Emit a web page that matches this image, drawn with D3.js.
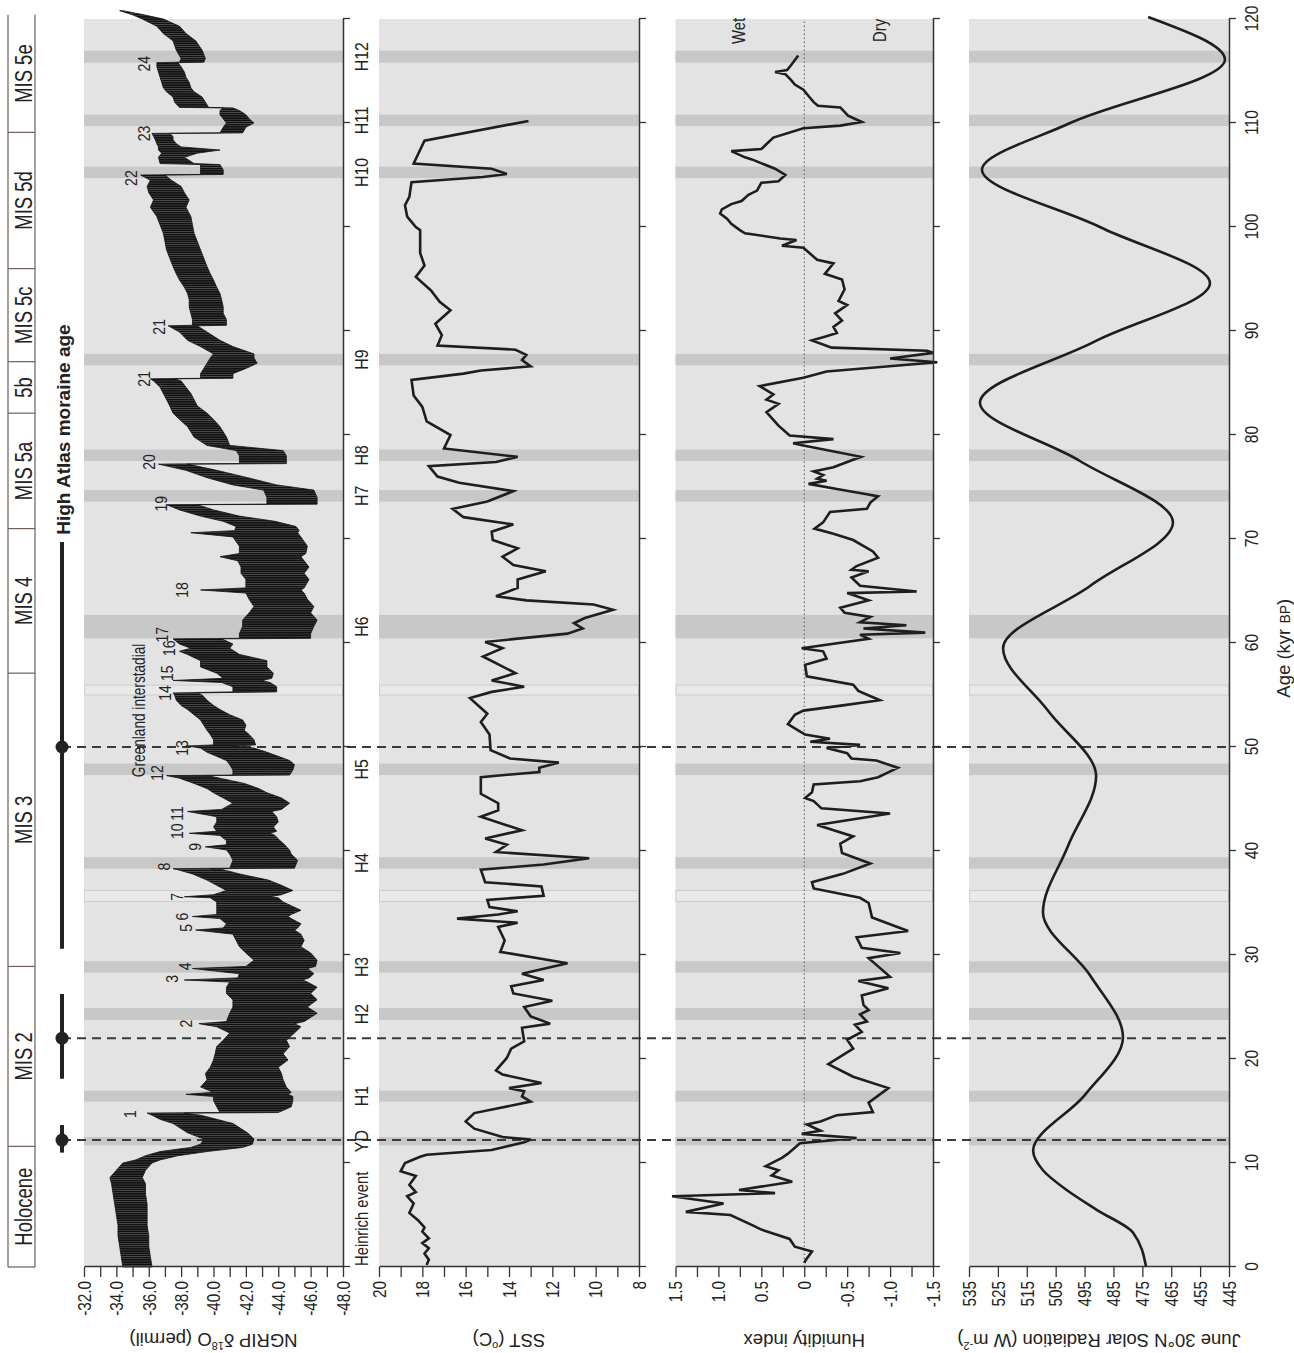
<!DOCTYPE html>
<html>
<head>
<meta charset="utf-8">
<script src="https://cdn.jsdelivr.net/npm/d3@7"></script>
<style>
  body { margin: 0; background: #fff; }
  svg text { font-family: "Liberation Sans", Arial, Helvetica, sans-serif; fill: #222; }
</style>
</head>
<body>
<svg id="chart" width="1294" height="1353"></svg>
<script>
// ---- data (age in kyr BP) ----

// NGRIP d18O record: [age, warm edge, cold edge] of the noisy trace
const ngrip = [
  [0.0,-34.4,-36.2],[1.0,-34.3,-36.1],[2.0,-34.2,-36.0],[3.0,-34.1,-36.0],[4.0,-34.1,-35.9],[5.0,-34.0,-35.9],
  [6.0,-33.9,-35.9],[7.0,-33.8,-35.8],[8.0,-33.7,-35.8],[8.6,-33.6,-35.6],[9.3,-34.0,-35.8],[10.0,-34.4,-36.2],
  [10.3,-35.2,-36.7],[10.7,-35.8,-37.8],[11.1,-36.7,-39.6],[11.5,-38.6,-41.8],[11.8,-39.2,-42.4],[12.3,-39.4,-42.5],
  [12.9,-38.4,-42.1],[13.8,-37.5,-41.2],[14.2,-36.7,-40.2],[14.6,-36.2,-39.2],[14.8,-35.9,-38.2],[14.85,-40.4,-44.0],
  [15.4,-40.2,-44.8],[16.0,-40.0,-44.9],[16.4,-40.0,-44.9],[16.6,-38.3,-44.6],[16.8,-40.0,-44.8],[17.3,-39.2,-44.5],
  [18.0,-39.6,-44.3],[18.6,-39.5,-44.2],[19.2,-39.8,-44.0],[19.9,-40.0,-44.6],[20.5,-40.1,-44.3],[21.2,-40.2,-44.7],
  [21.8,-40.6,-44.5],[22.5,-41.0,-45.0],[23.1,-40.2,-45.4],[23.4,-39.1,-45.0],[23.6,-40.8,-45.6],[24.4,-41.0,-46.4],
  [25.0,-41.2,-45.8],[25.7,-41.2,-46.4],[26.3,-40.8,-46.0],[26.9,-40.8,-46.4],[27.4,-41.0,-45.8],[27.6,-38.2,-45.5],
  [27.8,-41.5,-45.9],[28.2,-41.6,-46.2],[28.7,-38.7,-45.8],[28.9,-42.0,-46.3],[29.5,-42.5,-46.4],[30.2,-42.0,-46.0],
  [30.8,-41.6,-45.4],[31.4,-41.4,-45.6],[32.0,-41.2,-45.4],[32.4,-38.9,-45.0],[32.6,-40.6,-45.2],[33.0,-40.8,-45.4],
  [33.5,-40.4,-44.8],[33.7,-38.7,-44.6],[33.9,-40.2,-44.8],[34.3,-40.2,-45.4],[35.1,-40.2,-44.3],[35.5,-39.8,-44.0],
  [35.6,-38.2,-43.5],[35.8,-40.0,-44.2],[36.2,-40.8,-44.9],[36.7,-40.2,-44.2],[37.2,-39.6,-43.4],[37.8,-38.7,-41.6],
  [38.2,-37.8,-40.6],[38.3,-37.5,-39.8],[38.35,-41.0,-45.0],[39.1,-41.2,-45.2],[39.7,-41.0,-44.8],[40.1,-40.8,-44.7],
  [40.4,-39.5,-44.5],[40.6,-40.8,-44.4],[41.0,-40.8,-44.1],[41.5,-40.4,-43.8],[41.7,-38.5,-43.5],[41.9,-40.2,-43.9],
  [42.3,-40.0,-43.7],[42.8,-40.2,-44.0],[43.3,-40.2,-43.9],[43.8,-38.4,-43.6],[44.0,-40.5,-44.2],[44.6,-41.2,-44.7],
  [45.1,-40.6,-44.2],[45.6,-40.0,-43.3],[46.0,-39.6,-42.8],[46.5,-38.8,-41.9],[47.0,-37.9,-40.4],[47.25,-37.1,-39.6],
  [47.3,-41.2,-44.7],[47.8,-41.2,-44.9],[48.3,-41.0,-45.0],[48.7,-40.8,-44.7],[49.1,-40.2,-44.0],[49.5,-39.6,-43.3],
  [49.9,-39.2,-42.5],[50.1,-38.4,-41.2],[50.2,-40.0,-42.6],[50.7,-40.0,-42.5],[51.2,-39.8,-42.2],[51.6,-39.6,-41.9],
  [52.1,-39.4,-42.0],[52.6,-39.2,-41.8],[53.1,-38.8,-41.0],[53.6,-38.4,-40.4],[54.0,-38.0,-40.0],[54.5,-37.7,-39.6],
  [55.0,-37.6,-39.3],[55.2,-37.5,-39.0],[55.3,-41.2,-43.9],[55.8,-41.2,-43.9],[56.2,-40.5,-43.5],[56.4,-37.5,-43.0],
  [56.6,-40.6,-43.6],[57.1,-40.2,-43.7],[57.7,-39.2,-43.3],[58.3,-39.2,-43.3],[58.9,-38.4,-41.6],[59.2,-37.9,-41.3],
  [59.5,-38.6,-41.0],[59.9,-37.9,-41.2],[60.4,-37.5,-40.5],[60.45,-41.6,-46.0],[60.9,-41.6,-46.0],[61.6,-41.8,-46.2],
  [62.2,-41.8,-46.4],[62.9,-42.2,-46.0],[63.5,-42.5,-46.2],[64.2,-42.2,-45.8],[64.8,-42.0,-45.6],[65.1,-39.2,-45.4],
  [65.3,-42.0,-45.6],[66.1,-42.0,-45.9],[66.7,-41.7,-45.6],[67.3,-41.7,-45.9],[67.9,-41.5,-45.6],[68.3,-40.4,-45.4],
  [68.6,-41.6,-45.7],[69.3,-41.6,-45.8],[70.2,-41.2,-45.4],[70.6,-38.6,-45.2],[70.8,-41.3,-45.3],[71.2,-41.4,-45.1],
  [71.7,-40.6,-43.8],[72.2,-39.2,-41.6],[72.8,-37.9,-40.0],[73.3,-37.1,-39.0],[73.35,-43.3,-46.4],[74.0,-43.3,-46.4],
  [74.7,-43.1,-46.2],[75.2,-41.2,-43.9],[75.9,-39.6,-42.1],[76.6,-38.3,-40.2],[77.2,-36.6,-38.4],[77.25,-41.6,-44.5],
  [78.0,-41.6,-44.5],[78.5,-41.4,-44.3],[79.0,-39.6,-41.0],[79.8,-38.8,-40.8],[80.8,-38.4,-40.4],[81.5,-37.9,-40.0],
  [82.1,-37.5,-39.6],[82.8,-37.3,-39.0],[83.4,-37.1,-38.8],[84.0,-36.9,-38.6],[84.6,-36.7,-38.3],[85.2,-36.3,-38.0],
  [85.4,-36.1,-37.6],[85.45,-39.2,-41.2],[85.9,-39.2,-41.2],[86.4,-39.4,-42.0],[86.9,-39.6,-42.7],[87.4,-39.8,-42.5],
  [87.8,-40.0,-42.5],[88.5,-39.2,-41.2],[89.1,-38.4,-40.4],[89.9,-37.9,-39.6],[90.5,-37.2,-39.0],[90.55,-38.7,-40.8],
  [91.1,-38.7,-40.8],[91.7,-38.6,-40.6],[92.3,-38.5,-40.6],[93.0,-38.5,-40.5],[93.6,-38.4,-40.4],[94.2,-38.2,-40.2],
  [94.9,-37.9,-40.0],[95.5,-37.7,-39.8],[96.2,-37.5,-39.6],[97.0,-37.3,-39.4],[97.8,-37.1,-39.2],[98.6,-37.0,-39.0],
  [99.4,-36.9,-38.8],[100.2,-36.7,-38.7],[101.0,-36.5,-38.6],[101.9,-36.1,-38.3],[102.6,-36.3,-38.5],[103.3,-36.0,-38.2],
  [103.9,-35.9,-38.0],[104.5,-36.1,-37.4],[105.0,-35.5,-37.0],[105.05,-39.2,-40.6],[105.5,-39.2,-40.6],[106.0,-39.2,-40.4],
  [106.1,-36.7,-38.8],[106.7,-36.6,-38.2],[107.1,-36.8,-39.0],[107.4,-36.6,-40.4],[107.7,-36.6,-38.0],[108.0,-36.5,-37.7],
  [108.4,-36.4,-37.5],[108.7,-36.3,-37.5],[109.0,-36.2,-37.3],[109.05,-40.4,-41.8],[109.6,-40.6,-42.0],[110.0,-40.8,-42.5],
  [110.4,-40.6,-42.2],[110.8,-40.4,-42.0],[111.2,-40.4,-41.6],[111.45,-40.6,-41.2],[111.5,-37.9,-39.7],[112.0,-37.6,-39.5],
  [112.5,-37.5,-39.3],[113.0,-37.1,-38.8],[113.4,-36.9,-38.6],[113.9,-36.8,-38.5],[114.4,-36.7,-38.3],[114.9,-36.6,-38.2],
  [115.4,-36.5,-38.0],[115.8,-36.5,-37.8],[115.85,-37.9,-39.4],[116.2,-38.0,-39.5],[117.0,-37.7,-39.3],[117.9,-37.5,-38.9],
  [118.6,-36.9,-38.3],[119.3,-36.5,-37.9],[120.0,-35.6,-36.9],[120.4,-35.0,-35.7],[120.8,-34.2,-34.4]
];

// sea surface temperature (deg C)
const sst = [
  [0.2,17.8],[0.7,17.7],[1.3,17.9],[1.8,17.7],[2.3,18.0],[2.75,17.7],[3.4,18.0],[3.8,17.9],[4.5,18.2],[5.2,18.6],
  [6.1,18.4],[6.8,18.7],[7.2,18.3],[7.9,18.6],[8.75,18.3],[9.2,19.0],[10.0,18.8],[10.6,18.1],[10.8,17.8],[11.25,14.8],
  [12.0,13.3],[12.25,13.0],[12.5,14.3],[13.3,15.6],[14.0,16.0],[14.8,15.6],[15.9,13.0],[16.4,13.4],[16.9,13.3],[17.2,14.0],
  [17.7,12.5],[18.5,14.3],[18.9,14.6],[20.1,14.1],[21.0,13.9],[21.7,13.3],[23.0,13.4],[23.4,12.1],[24.1,13.0],[25.0,13.3],
  [25.6,12.0],[26.3,13.8],[27.0,13.9],[27.6,12.4],[28.2,13.4],[29.2,11.3],[30.3,14.4],[31.4,14.2],[32.7,14.5],[33.1,13.6],
  [33.5,16.4],[33.9,14.5],[34.2,13.6],[34.6,14.9],[35.3,15.0],[35.7,12.4],[36.6,12.5],[37.0,15.1],[38.2,15.3],[38.7,12.4],
  [39.3,10.3],[39.9,14.6],[40.6,14.1],[41.2,15.1],[42.0,13.4],[43.3,15.3],[43.9,14.5],[44.6,14.5],[45.5,15.3],[47.1,15.3],
  [47.6,12.6],[48.0,12.6],[48.5,11.7],[48.9,13.95],[49.7,14.85],[51.2,14.9],[52.4,15.3],[53.2,15.0],[54.7,15.8],[55.3,14.8],
  [55.8,13.3],[56.4,14.8],[57.1,13.7],[58.7,15.2],[59.5,14.3],[60.1,15.1],[60.9,11.3],[61.4,10.6],[61.9,11.0],[62.4,10.5],
  [63.2,9.2],[63.7,10.1],[64.1,13.2],[64.5,14.6],[65.3,13.6],[66.1,13.6],[66.9,12.3],[67.5,13.8],[68.3,14.3],[69.1,13.6],
  [69.9,14.75],[70.7,14.8],[71.4,13.8],[72.1,16.1],[72.9,16.6],[73.6,15.0],[74.6,13.8],[75.4,16.3],[76.0,17.3],[77.0,17.7],
  [77.4,14.6],[77.9,13.6],[78.7,17.0],[80.0,16.7],[81.3,17.8],[82.7,18.0],[83.8,18.4],[85.3,18.5],[85.9,16.1],[86.2,15.3],
  [86.6,13.0],[87.2,13.4],[87.7,13.2],[88.2,13.7],[88.6,17.3],[89.6,17.1],[90.7,17.4],[92.0,16.7],[92.8,17.2],[93.9,17.6],
  [95.2,18.3],[96.3,17.9],[97.5,18.1],[99.7,18.1],[100.0,18.3],[101.0,18.7],[102.1,18.8],[102.9,18.6],[104.3,18.5],[104.8,15.2],
  [105.1,14.1],[105.6,14.8],[106.1,18.4],[108.3,17.9],[110.2,13.1]
];

// humidity index
const humidity = [
  [0.4,0.0],[0.7,-0.02],[1.5,-0.09],[1.95,0.11],[2.7,0.17],[3.6,0.50],[4.0,0.60],[5.0,0.86],[5.3,1.38],[6.1,0.94],
  [6.8,1.54],[7.1,0.34],[7.4,0.76],[8.2,0.14],[8.8,0.38],[9.3,0.30],[9.7,0.45],[10.5,0.26],[10.9,0.19],[11.9,0.05],
  [12.4,-0.61],[12.8,0.03],[13.1,-0.19],[13.7,-0.03],[14.0,-0.19],[14.6,-0.38],[14.9,-0.80],[15.8,-0.75],[17.2,-0.98],[18.3,-0.57],
  [19.5,-0.28],[21.0,-0.57],[21.85,-0.50],[22.6,-0.67],[23.3,-0.59],[23.6,-0.73],[24.3,-0.65],[24.7,-0.75],[25.2,-0.69],[26.1,-0.67],
  [26.8,-0.98],[27.5,-0.63],[27.9,-1.0],[29.7,-0.75],[30.2,-1.12],[30.7,-0.67],[31.7,-0.61],[32.3,-1.21],[33.6,-0.79],[35.0,-0.75],
  [35.5,-0.65],[36.4,-0.11],[37.0,-0.09],[37.8,-0.45],[38.8,-0.77],[39.8,-0.44],[40.7,-0.42],[41.4,-0.57],[42.5,-0.15],[43.6,-1.0],
  [44.1,-0.20],[44.8,-0.11],[45.1,-0.01],[45.65,-0.09],[46.4,-0.11],[46.7,-0.65],[47.1,-0.86],[48.0,-1.09],[48.7,-0.84],[48.9,-0.55],
  [49.4,-0.50],[49.9,-0.26],[50.2,-0.65],[50.5,-0.07],[50.8,-0.30],[51.2,-0.01],[51.8,0.11],[52.2,0.19],[53.1,0.11],[53.5,0.01],
  [54.0,-0.45],[54.5,-0.88],[55.4,-0.63],[56.0,-0.57],[56.8,-0.03],[57.9,-0.01],[58.5,-0.26],[59.2,-0.22],[59.5,0.03],[60.4,-0.75],
  [60.8,-0.65],[61.0,-1.41],[61.4,-0.69],[61.7,-1.19],[62.0,-0.65],[62.5,-0.77],[62.9,-0.47],[63.4,-0.42],[64.1,-0.75],[64.8,-0.50],
  [64.95,-1.31],[65.5,-0.65],[66.3,-0.55],[66.9,-0.75],[67.05,-0.55],[67.4,-0.61],[68.2,-0.86],[68.8,-0.80],[69.9,-0.57],[70.5,-0.34],
  [71.0,-0.12],[71.6,-0.22],[72.6,-0.30],[72.9,-0.73],[73.5,-0.77],[74.1,-0.86],[74.3,-0.73],[74.8,-0.38],[75.3,-0.05],[75.6,-0.26],
  [75.8,-0.15],[76.15,-0.22],[76.5,-0.11],[76.9,-0.34],[77.9,-0.66],[79.0,0.01],[79.2,0.13],[79.6,-0.34],[79.95,0.17],[80.9,0.30],
  [82.2,0.44],[83.0,0.30],[83.4,0.44],[83.9,0.36],[84.7,0.52],[85.5,0.01],[86.1,-0.26],[87.0,-1.55],[87.35,-1.0],[87.9,-1.5],
  [88.1,-1.43],[88.4,-0.32],[89.1,-0.09],[89.4,-0.22],[89.8,-0.38],[90.4,-0.34],[91.0,-0.44],[91.7,-0.36],[92.5,-0.50],[92.9,-0.40],
  [94.0,-0.47],[94.95,-0.44],[95.5,-0.24],[96.5,-0.34],[96.85,-0.15],[98.0,0.01],[98.2,0.26],[98.75,0.09],[98.9,0.28],[99.4,0.69],
  [99.7,0.75],[100.3,0.85],[100.8,0.90],[101.3,0.98],[101.7,0.96],[102.2,0.85],[102.5,0.73],[103.1,0.65],[103.5,0.55],[104.25,0.50],
  [104.4,0.30],[105.0,0.22],[105.6,0.34],[106.5,0.61],[106.7,0.69],[107.3,0.85],[107.5,0.50],[108.6,0.36],[109.5,0.01],[109.75,-0.42],
  [110.1,-0.67],[110.7,-0.51],[111.5,-0.42],[111.65,-0.16],[112.0,-0.11],[112.6,-0.05],[113.2,0.01],[113.7,0.11],[114.1,0.15],[114.7,0.22],
  [114.9,0.34],[115.1,0.20],[115.6,0.15],[116.5,0.07]
];

// June 30N insolation (W m-2)
const solar = [
  [0,473.7],[3.3,478.2],[5.5,490.8],[7.4,501.2],[9.3,509.4],[11.2,512.8],[16.5,495],[22.1,481.7],[28,493],[34.1,509.4],
  [40.5,500.7],[47.2,491],[53.5,507.7],[59.5,523.2],[65.5,493],[71.6,464.4],[77.5,496.6],[83.1,531.2],[89,491.4],
  [94.6,451.6],[100,489.7],[105.5,530.5],[110,500],[116.1,446.4],[120.2,473]
];

// Heinrich events / Younger Dryas bands [label, from, to]
const heinrich = [
  ["YD",11.7,12.5],["H1",15.9,16.95],["H2",23.75,24.9],["H3",28.3,29.4],["H4",38.3,39.4],["H5",47.3,48.4],
  ["H6",60.45,62.7],["H7",73.6,74.7],["H8",77.5,78.6],["H9",86.7,87.8],["H10",104.7,105.8],["H11",109.7,110.8],
  ["H12",115.8,116.95]
];
const interstadialBoxes = [[35.15,36.2],[55.0,55.95]];

// marine isotope stages
const misBounds = [0, 11.6, 28.9, 57.1, 71.0, 82.1, 87.05, 96.0, 109.1, 120.4];
const misNames = ["Holocene", "MIS 2", "MIS 3", "MIS 4", "MIS 5a", "5b", "MIS 5c", "MIS 5d", "MIS 5e"];

// High Atlas moraine ages [age, from, to]
const moraines = [[12.2,11.0,13.65],[22,18.1,26.25],[50,30.6,69.7]];

// Greenland interstadial numbers [label, age, value of label baseline]
const gisLabels = [
  ["1",14.7,-35.2],["2",23.4,-38.7],["3",27.7,-37.8],["4",28.9,-38.6],["5",32.6,-38.7],["6",33.7,-38.4],
  ["7",35.6,-38.1],["8",38.5,-37.3],["9",40.4,-39.2],["10",41.9,-38.1],["11",43.6,-38.1],["12",47.5,-36.9],
  ["13",49.9,-38.4],["14",55.2,-37.4],["15",57.1,-37.5],["16",59.5,-37.6],["17",60.8,-37.2],["18",65.1,-38.4],
  ["19",73.4,-37.1],["20",77.4,-36.4],["21",85.4,-36.1],["21",90.4,-37.0],["22",104.7,-35.3],["23",109.0,-36.1],
  ["24",115.7,-36.1]
];

// ---- drawing ----
const W = 1294, H = 1353;
const svg = d3.select("#chart");

// dense stroke texture for the NGRIP trace
const pat = svg.append("defs").append("pattern")
  .attr("id", "fuzz")
  .attr("patternUnits", "userSpaceOnUse")
  .attr("width", 2.2).attr("height", 10);
pat.append("rect").attr("width", 2.2).attr("height", 10).attr("fill", "#505050");
pat.append("rect").attr("width", 1.4).attr("height", 10).attr("fill", "#0d0d0d");

// the figure is laid out landscape and turned a quarter turn
const g = svg.append("g").attr("transform", `translate(0,${H}) rotate(-90)`);

const x = d3.scaleLinear().domain([0, 120]).range([86, 1334]);

const panels = [
  { key: "ngrip", scale: d3.scaleLinear().domain([-32, -48]).range([84, 343]),
    ticks: d3.range(-32, -48.01, -1), fmt: d => (d % 2 === 0 ? d.toFixed(1) : "") },
  { key: "sst", scale: d3.scaleLinear().domain([20, 8]).range([379, 639]),
    ticks: d3.range(20, 7.99, -1), fmt: d => (d % 2 === 0 ? d : "") },
  { key: "hum", scale: d3.scaleLinear().domain([1.5, -1.5]).range([675.5, 933]),
    ticks: d3.range(1.5, -1.51, -0.25), fmt: d => (Math.abs(d * 2 - Math.round(d * 2)) < 1e-6 ? (Math.abs(d) < 1e-6 ? "0" : d.toFixed(1)) : "") },
  { key: "solar", scale: d3.scaleLinear().domain([535, 445]).range([969, 1229]),
    ticks: d3.range(535, 444, -10), fmt: d => d }
];
const P = Object.fromEntries(panels.map(p => [p.key, p]));

function addText(sel, px, py, str, o = {}) {
  return sel.append("text")
    .attr("transform", `translate(${px},${py}) scale(${o.sx ?? 1},1)`)
    .attr("text-anchor", o.anchor || "middle")
    .attr("font-size", o.size || 18)
    .attr("font-weight", o.weight || "normal")
    .text(str);
}

// backgrounds, bands, outline boxes
panels.forEach(p => {
  const [y0, y1] = p.scale.range();
  const pg = g.append("g").attr("class", `panel panel-${p.key}`);
  pg.append("rect")
    .attr("x", x(0)).attr("width", x(120) - x(0))
    .attr("y", y0).attr("height", y1 - y0)
    .attr("fill", "#e3e3e3");
  pg.selectAll(".band").data(heinrich).join("rect")
    .attr("class", "band")
    .attr("x", d => x(d[1])).attr("width", d => x(d[2]) - x(d[1]))
    .attr("y", y0).attr("height", y1 - y0)
    .attr("fill", "#c8c8c8");
  pg.selectAll(".gi").data(interstadialBoxes).join("rect")
    .attr("class", "gi")
    .attr("x", d => x(d[0])).attr("width", d => x(d[1]) - x(d[0]))
    .attr("y", y0 + 0.5).attr("height", y1 - y0 - 1)
    .attr("fill", "#e9e9e9").attr("stroke", "#cdcdcd").attr("stroke-width", 1);
});

// dashed moraine lines through all panels
g.selectAll(".dash").data(moraines).join("line")
  .attr("class", "dash")
  .attr("x1", d => x(d[0])).attr("x2", d => x(d[0]))
  .attr("y1", 62).attr("y2", P.solar.scale.range()[1])
  .attr("stroke", "#3a3a3a").attr("stroke-width", 2).attr("stroke-dasharray", "9,6");

// moraine bars and dots
g.selectAll(".mbar").data(moraines).join("line")
  .attr("class", "mbar")
  .attr("x1", d => x(d[1])).attr("x2", d => x(d[2]))
  .attr("y1", 62).attr("y2", 62)
  .attr("stroke", "#222").attr("stroke-width", 4);
g.selectAll(".mdot").data(moraines).join("circle")
  .attr("class", "mdot")
  .attr("cx", d => x(d[0])).attr("cy", 62).attr("r", 6.5)
  .attr("fill", "#222");
addText(g, x(70.4), 70, "High Atlas moraine age", { anchor: "start", size: 19, weight: "bold" });

// MIS strip
const mis = g.append("g").attr("class", "mis");
[8, 35].forEach(yy => mis.append("line")
  .attr("x1", x(0)).attr("x2", x(misBounds[misBounds.length - 1]))
  .attr("y1", yy).attr("y2", yy)
  .attr("stroke", "#6e5f58").attr("stroke-width", 1.2));
mis.selectAll(".div").data(misBounds.slice(0, -1)).join("line")
  .attr("class", "div")
  .attr("x1", d => x(d)).attr("x2", d => x(d))
  .attr("y1", 8).attr("y2", 35)
  .attr("stroke", "#6e5f58").attr("stroke-width", 1.2);
misNames.forEach((n, i) => {
  addText(mis, x((misBounds[i] + misBounds[i + 1]) / 2), 32, n, { size: 24, sx: 0.77 });
});

// NGRIP trace
const ng = P.ngrip.scale;
g.append("path")
  .datum(ngrip)
  .attr("d", d3.area().x(d => x(d[0])).y0(d => ng(d[2])).y1(d => ng(d[1])))
  .attr("fill", "url(#fuzz)")
  .attr("stroke", "#111").attr("stroke-width", 0.8).attr("stroke-linejoin", "round");

// SST, humidity, solar curves
const curve = (data, ys, c) => g.append("path")
  .datum(data)
  .attr("d", d3.line().x(d => x(d[0])).y(d => ys(d[1])).curve(c || d3.curveLinear))
  .attr("fill", "none").attr("stroke", "#1e1e1e").attr("stroke-width", 2.6);

// zero line for humidity
g.append("line")
  .attr("x1", x(0)).attr("x2", x(120))
  .attr("y1", P.hum.scale(0)).attr("y2", P.hum.scale(0))
  .attr("stroke", "#555").attr("stroke-width", 1).attr("stroke-dasharray", "1.5,2.5");

curve(sst, P.sst.scale);
curve(humidity, P.hum.scale);
curve(solar, P.solar.scale, d3.curveMonotoneX);

// axes
panels.forEach((p, i) => {
  const va = g.append("g")
    .attr("transform", `translate(${x(0)},0)`)
    .call(d3.axisLeft(p.scale).tickValues(p.ticks).tickFormat(p.fmt).tickSize(10).tickSizeOuter(0));
  va.select(".domain").attr("stroke", "#333").attr("stroke-width", 1.5);
  va.selectAll(".tick line").attr("stroke", "#333").attr("stroke-width", 1.3);
  va.selectAll("text")
    .attr("x", 0).attr("dy", "0.35em")
    .attr("transform", "translate(-14,0) scale(0.85,1)")
    .attr("font-size", 18).attr("fill", "#222")
    .style("font-family", "Liberation Sans, Arial, sans-serif");

  const last = i === panels.length - 1;
  const ha = g.append("g")
    .attr("transform", `translate(0,${p.scale.range()[1]})`)
    .call(d3.axisBottom(x).tickValues(d3.range(0, 121, 10)).tickSize(7).tickSizeOuter(0)
      .tickFormat(last ? d => d : () => ""));
  ha.select(".domain").attr("stroke", "#333").attr("stroke-width", 1.5);
  ha.selectAll(".tick line").attr("stroke", "#333").attr("stroke-width", 1.3);
  ha.selectAll("text")
    .attr("y", 0).attr("dy", 0)
    .attr("transform", "translate(0,29) scale(0.82,1)")
    .attr("font-size", 19).attr("fill", "#222")
    .style("font-family", "Liberation Sans, Arial, sans-serif");
});

// Heinrich labels under the NGRIP panel
heinrich.forEach(([name, a, b]) => {
  addText(g, x((a + b) / 2), 368, name, { size: 18, sx: 0.88 });
});
addText(g, x(0.1), 368, "Heinrich event", { anchor: "start", size: 18, sx: 0.82 });

// interstadial numbers
gisLabels.forEach(([t, a, v]) => addText(g, x(a), ng(v), t, { size: 16.5, sx: 0.85 }));
addText(g, x(47.1), 145, "Greenland interstadial", { anchor: "start", size: 17.5, sx: 0.78 });

// wet / dry
addText(g, x(117.6), 745, "Wet", { anchor: "start", size: 18.5, sx: 0.8 });
addText(g, x(117.8), 886, "Dry", { anchor: "start", size: 18.5, sx: 0.8 });

// axis titles (rotated inside the landscape frame)
const titles = [
  { key: "ngrip", parts: [["NGRIP δ"], ["18", "sup"], ["O (permil)"]] },
  { key: "sst", parts: [["SST ("], ["o", "sup"], ["C)"]] },
  { key: "hum", parts: [["Humidity index"]] },
  { key: "solar", parts: [["June 30°N Solar Radiation (W m"], ["-2", "sup"], [")"]] }
];
titles.forEach(t => {
  const r = P[t.key].scale.range();
  const tx = g.append("text")
    .attr("transform", `translate(19,${(r[0] + r[1]) / 2}) rotate(-90)`)
    .attr("text-anchor", "middle")
    .attr("font-size", 18.5);
  t.parts.forEach(([s, kind]) => {
    const ts = tx.append("tspan").text(s);
    if (kind === "sup") ts.attr("font-size", 11).attr("dy", "-0.7em");
    else if (tx.selectAll("tspan").size() > 1) ts.attr("dy", "0.45em");
  });
});

// age axis title
const at = g.append("text")
  .attr("transform", `translate(${x(59.5)},1290)`)
  .attr("text-anchor", "middle").attr("font-size", 18.5);
at.append("tspan").text("Age (kyr ");
at.append("tspan").text("BP").attr("font-size", 14);
at.append("tspan").text(")");
</script>
</body>
</html>
